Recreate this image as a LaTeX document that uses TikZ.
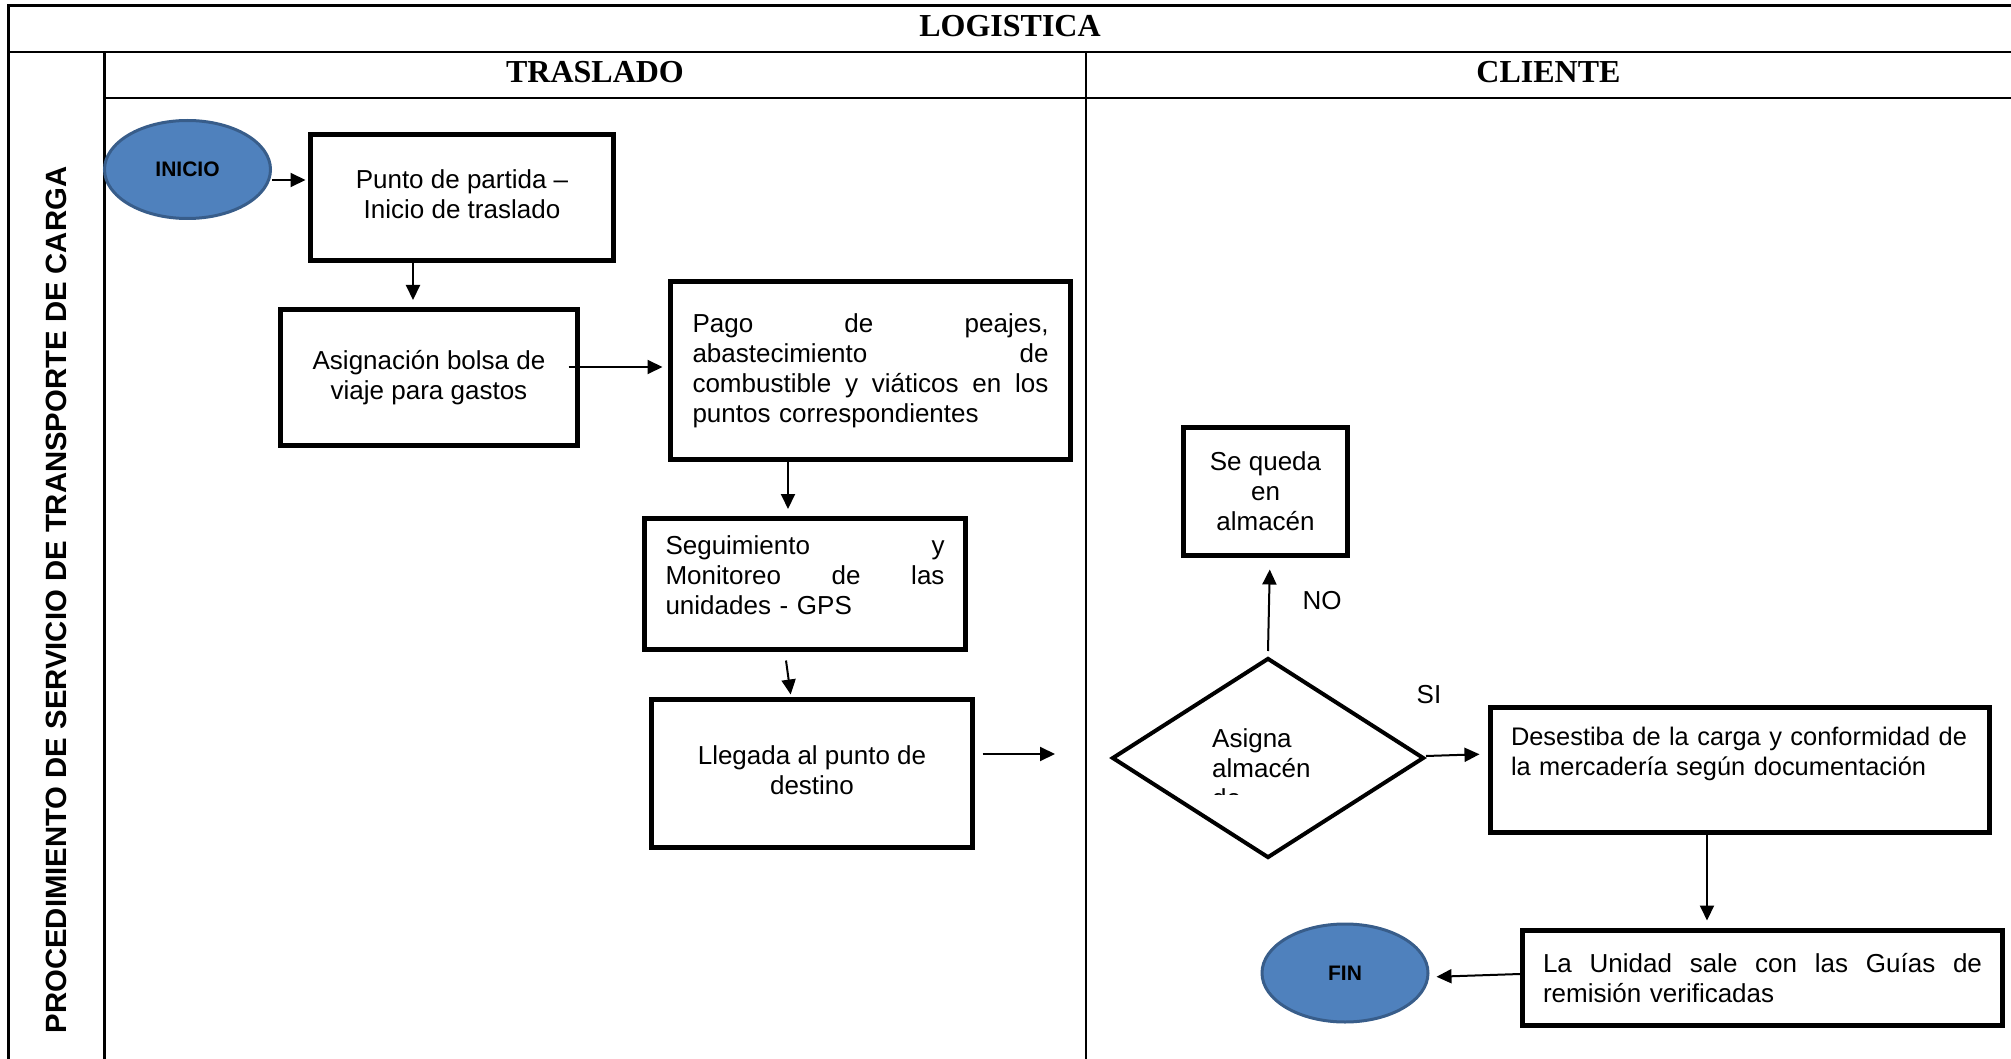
\documentclass[tikz,border=0pt]{standalone}
\usepackage{fontspec}
\setmainfont{Liberation Serif}
\newfontfamily\arialf{Liberation Sans}
\usetikzlibrary{shapes.geometric,arrows.meta}
\definecolor{termfill}{HTML}{4F81BD}
\definecolor{termline}{HTML}{385D8A}
\newcommand\procfont{\arialf\fontsize{26}{30}\selectfont}
\newcommand\hdrfont{\bfseries\fontsize{32}{36}\selectfont}
\newcommand\termfont{\arialf\bfseries\fontsize{21}{24}\selectfont}
\newcommand\lanefont{\arialf\bfseries\fontsize{29.3}{32}\selectfont}

\begin{document}
\begin{tikzpicture}[x=1pt,y=-1pt,
  frame/.style={line width=2.7pt},
  proc/.style={draw,line width=5pt,inner sep=0pt,font=\procfont},
  term/.style={ellipse,draw=termline,fill=termfill,line width=3pt,minimum width=166pt,minimum height=98pt,inner sep=0pt,font=\termfont},
  decision/.style={diamond,draw,line width=4pt,inner sep=0pt,minimum width=312pt,minimum height=200pt},
  arr/.style={-{Triangle[length=15pt,width=14pt]},line width=2pt,shorten >=7pt},
  lbl/.style={font=\procfont,inner sep=0pt}]
  \useasboundingbox (0,0) rectangle (2011,1059);
  \draw[frame] (2020,5.7) -- (8.5,5.7) -- (8.5,1070);
  \draw[frame] (8.5,52) -- (2020,52);
  \draw[frame] (104.5,98) -- (2020,98);
  \draw[frame] (104.5,52) -- (104.5,1070);
  \draw[frame] (1086,52) -- (1086,1070);
  \node[font=\hdrfont] (logistica) at (1010,26) {LOGISTICA};
  \node[font=\hdrfont] (traslado) at (595,72) {TRASLADO};
  \node[font=\hdrfont] (cliente) at (1548.5,72) {CLIENTE};
  \node[font=\lanefont,rotate=90] (proceso) at (56.5,600) {PROCEDIMIENTO DE SERVICIO DE TRANSPORTE DE CARGA};

  \node[term] (inicio) at (187.5,169.5) {INICIO};
  \node[proc,minimum width=303pt,minimum height=126pt,align=center] (partida) at (462,197.5) {Punto de partida –\\Inicio de traslado\\[-24pt]\mbox{}};
  \node[proc,minimum width=297pt,minimum height=136pt,align=center] (bolsa) at (429,377.5) {Asignación bolsa de\\viaje para gastos};
  \node[proc,minimum width=400pt,minimum height=178pt,text width=356pt,align=left] (peajes) at (870.5,370.5) {Pago\hfill de\hfill peajes,\\abastecimiento\hfill de\\combustible\hfill y\hfill viáticos\hfill en\hfill los\\puntos correspondientes};
  \node[proc,minimum width=321pt,minimum height=131pt,text width=279pt,align=left] (gps) at (805,584) {Seguimiento\hfill y\\Monitoreo\hfill de\hfill las\\unidades - GPS\\[-12pt]\mbox{}};
  \node[proc,minimum width=321pt,minimum height=148pt,align=center] (llegada) at (812,773.5) {Llegada al punto de\\destino\\[-24pt]\mbox{}};
  \coordinate (llegadafin) at (1055,754);

  \node[decision] (almacen) at (1268,758) {};
  \begin{scope}
    \clip (1150,700) rectangle (1400,794);
    \node[lbl,anchor=north west,align=left] (almacentxt) at (1212,728) {Asigna\\almacén\\de};
  \end{scope}
  \node[proc,minimum width=164pt,minimum height=128pt,align=center] (queda) at (1265.5,491.5) {Se queda\\en\\almacén};
  \node[proc,minimum width=499pt,minimum height=125pt,text width=458pt,align=left,font=\arialf\fontsize{25.4}{30}\selectfont] (desestiba) at (1740,770) {Desestiba de la carga y conformidad de\\la mercadería según documentación\\[8pt]\mbox{}};
  \node[proc,minimum width=480pt,minimum height=95pt,text width=439pt,align=left] (guias) at (1762.5,978) {La\hfill Unidad\hfill sale\hfill con\hfill las\hfill Guías\hfill de\\remisión verificadas};
  \node[term] (fin) at (1345,973) {FIN};
  \node[lbl] (no) at (1322,601) {NO};
  \node[lbl] (si) at (1429,695) {SI};

  \draw[arr,shorten >=2.5pt] ([yshift=-10.5pt]inicio.east) -- ([yshift=17.5pt]partida.west);
  \draw[arr] ([xshift=-49pt]partida.south) -- ([xshift=-16pt]bolsa.north);
  \draw[arr,shorten >=5.5pt] ([xshift=-11.5pt,yshift=10.5pt]bolsa.east) -- ([yshift=3.5pt]peajes.west);
  \draw[arr] ([xshift=-82.5pt]peajes.south) -- ([xshift=-17pt]gps.north);
  \draw[arr,shorten >=2.5pt] ([xshift=-19pt,yshift=-8.5pt]gps.south) -- ([xshift=-21pt]llegada.north);
  \draw[arr,shorten >=0pt] ([xshift=7.5pt,yshift=19.5pt]llegada.east) -- (llegadafin);
  \draw[arr,shorten >=8.5pt] ([yshift=2pt]almacen.east) -- ([yshift=16pt]desestiba.west);
  \draw[arr,shorten >=11.5pt] ([yshift=5pt]almacen.north) -- ([xshift=4.5pt]queda.south);
  \draw[arr,shorten >=7.5pt] ([xshift=-33pt]desestiba.south) -- ([xshift=-55.5pt]guias.north);
  \draw[arr] ([yshift=4pt]guias.west) -- ([yshift=-4pt]fin.east);
\end{tikzpicture}
\end{document}
